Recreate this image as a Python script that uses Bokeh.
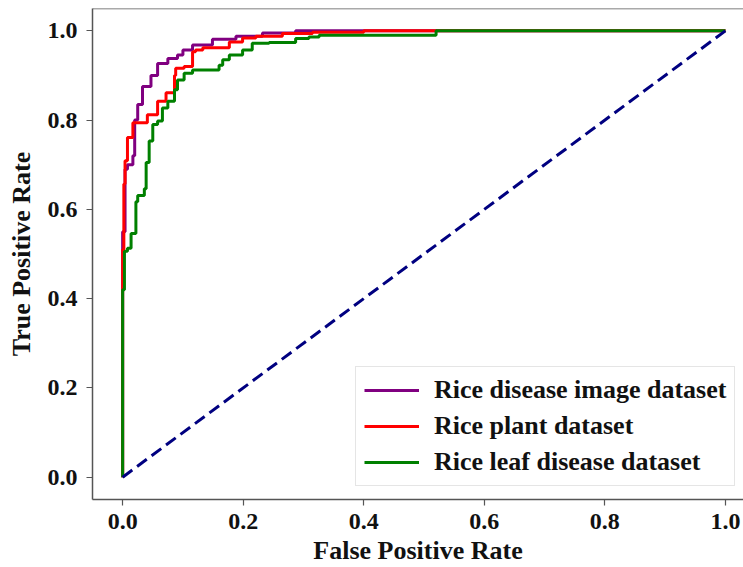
from bokeh.plotting import figure
from bokeh.models import Range1d, FixedTicker, Legend, LegendItem, Span
from bokeh.embed import file_html
from bokeh.resources import INLINE

# ---- data ----
tick_values = [0.0, 0.2, 0.4, 0.6, 0.8, 1.0]
tick_labels = ["0.0", "0.2", "0.4", "0.6", "0.8", "1.0"]

series_names = ["Rice disease image dataset", "Rice plant dataset", "Rice leaf disease dataset"]

fpr_image = [0.0, 0.0, 0.004, 0.008, 0.017, 0.020, 0.025, 0.033, 0.047, 0.058, 0.075, 0.091,
             0.100, 0.116, 0.149, 0.188, 0.232, 0.287, 0.350, 1.0]
tpr_image = [0.0, 0.30, 0.55, 0.69, 0.70, 0.72, 0.80, 0.835, 0.875, 0.90, 0.927, 0.938,
             0.946, 0.957, 0.968, 0.981, 0.988, 0.995, 1.0, 1.0]

fpr_plant = [0.0, 0.0, 0.002, 0.004, 0.008, 0.017, 0.025, 0.041, 0.058, 0.072, 0.086,
             0.088, 0.102, 0.116, 0.121, 0.133, 0.177, 0.199, 0.221, 0.265, 0.315,
             0.400, 0.520, 1.0]
tpr_plant = [0.0, 0.12, 0.51, 0.657, 0.709, 0.761, 0.794, 0.794, 0.812, 0.842, 0.861,
             0.90, 0.916, 0.92, 0.953, 0.957, 0.962, 0.975, 0.984, 0.988, 0.994,
             0.997, 1.0, 1.0]

fpr_leaf = [0.0, 0.0, 0.003, 0.008, 0.014, 0.022, 0.025, 0.036, 0.039, 0.044, 0.050,
            0.058, 0.066, 0.075, 0.086, 0.091, 0.102, 0.116, 0.133, 0.160, 0.166,
            0.177, 0.199, 0.215, 0.243, 0.287, 0.309, 0.326, 0.400, 0.520, 0.520, 1.0]
tpr_leaf = [0.0, 0.11, 0.42, 0.506, 0.513, 0.546, 0.617, 0.631, 0.646, 0.705, 0.753,
            0.79, 0.798, 0.827, 0.842, 0.868, 0.89, 0.905, 0.912, 0.912, 0.923,
            0.935, 0.946, 0.957, 0.972, 0.974, 0.983, 0.986, 0.99, 0.99, 1.0, 1.0]

chance_x = [0.0, 1.0]
chance_y = [0.0, 1.0]

FONT = "Liberation Serif"

p = figure(width=743, height=567, output_backend="svg", toolbar_location=None,
           x_range=Range1d(-0.05, 1.03), y_range=Range1d(-0.05, 1.05),
           min_border_left=92, min_border_right=0, min_border_top=8, min_border_bottom=0)
p.outline_line_color = None
p.background_fill_color = "white"
p.border_fill_color = "white"
p.xgrid.visible = False
p.ygrid.visible = False

for ax in (p.xaxis[0], p.yaxis[0]):
    ax.ticker = FixedTicker(ticks=tick_values)
    ax.major_label_overrides = {v: l for v, l in zip(tick_values, tick_labels)}
    ax.major_label_text_font = FONT
    ax.major_label_text_font_style = "bold"
    ax.major_label_text_font_size = "24px"
    ax.major_label_text_color = "#111111"
    ax.axis_label_text_font = FONT
    ax.axis_label_text_font_style = "bold"
    ax.axis_label_text_font_size = "26px"
    ax.axis_label_text_color = "#111111"
    ax.axis_line_color = "#555555"
    ax.axis_line_width = 1.5
    ax.major_tick_line_color = "#555555"
    ax.major_tick_line_width = 1.2
    ax.major_tick_out = 6
    ax.major_tick_in = 0
    ax.minor_tick_out = 0
    ax.minor_tick_in = 0

p.xaxis.axis_label = "False Positive Rate"
p.yaxis.axis_label = "True Positive Rate"
p.xaxis.major_label_standoff = 8
p.xaxis.axis_label_standoff = 4
p.yaxis.major_label_standoff = 9
p.yaxis.axis_label_standoff = 9

top_spine = Span(location=1.05, dimension="width", line_color="#555555", line_width=1.5)
p.add_layout(top_spine)

r1 = p.step(fpr_image, tpr_image, mode="before", line_color="purple", line_width=3)
r2 = p.step(fpr_plant, tpr_plant, mode="before", line_color="red", line_width=3)
r3 = p.step(fpr_leaf, tpr_leaf, mode="before", line_color="green", line_width=3)
p.line(chance_x, chance_y, line_color="navy", line_width=3, line_dash="12 6")

legend = Legend(items=[LegendItem(label=series_names[0], renderers=[r1]),
                       LegendItem(label=series_names[1], renderers=[r2]),
                       LegendItem(label=series_names[2], renderers=[r3])],
                location=(263, 13))
legend.label_text_font = FONT
legend.label_text_font_style = "bold"
legend.label_text_font_size = "26px"
legend.label_text_color = "#111111"
legend.glyph_width = 55
legend.glyph_height = 30
legend.label_height = 30
legend.label_standoff = 15
legend.spacing = 6
legend.padding = 8
legend.margin = 0
legend.border_line_color = "#cccccc"
legend.border_line_width = 1
legend.background_fill_alpha = 0.85
p.add_layout(legend)

open("out.html", "w").write(file_html(p, INLINE))
